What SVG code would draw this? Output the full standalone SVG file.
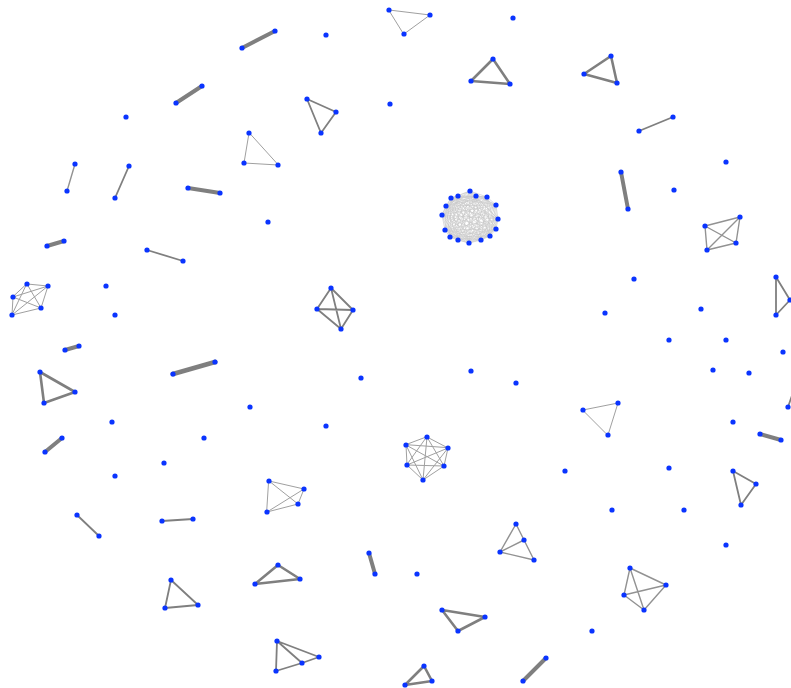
<svg xmlns="http://www.w3.org/2000/svg" width="791" height="688" viewBox="0 0 791 688">
<style>
.e{stroke:#7f7f7f;fill:none;stroke-linecap:round;stroke-linejoin:round}
.w1{stroke-width:1;stroke:#a0a0a0}
.w15{stroke-width:1.4;stroke:#929292}
.w2{stroke-width:1.8}
.w3{stroke-width:2.6}
.w4{stroke-width:4}
.w5{stroke-width:4.8}
.k{stroke:#c8c8c8;stroke-width:0.6;fill:none}
circle{fill:#0a34ff}
</style>
<rect width="791" height="688" fill="#fff"/>
<g id="connectors">
<path class="e w4" d="M242,48L275,31M176,103L202,86M188,188L220,193M621,172L628,209M47,246L64,241M65,350L79,346M45,452L62,438M760,434L781,440M369,553L375,574M523,681L546,658"/>
<path class="e w5" d="M173,374L215,362"/>
<path class="e w3" d="M493,59L471,81L510,84ZM611,56L584,74L617,83ZM40,372L75,392L44,403ZM278,565L300,579L255,584ZM442,610L485,617L458,631ZM424,666L405,685L432,681Z"/>
<path class="e w2" d="M162,521L193,519M788,407L796,384M129,166L115,198M639,131L673,117M147,250L183,261M776,277L790,300L776,315ZM171,580L165,608L198,605ZM77,515L99,536M733,471L756,484L741,505ZM307,99L336,112L321,133Z"/>
<path class="e w2" d="M331,288L353,310L341,329L317,309ZM331,288L341,329M317,309L353,310"/>
<path class="e w2" d="M277,641L319,657L302,663L276,671ZM277,641L302,663"/>
<path class="e w15" d="M75,164L67,191M705,226L740,217L736,243L707,250ZM705,226L736,243M740,217L707,250M516,524L524,540L534,560L500,552ZM516,524L500,552L524,540M630,568L666,585L644,610L624,595ZM630,568L644,610M624,595L666,585"/>
<path class="e w1" d="M249,133L244,163L278,165ZM389,10L430,15L404,34ZM583,410L618,403L608,435ZM269,481L304,489L298,504L267,512ZM269,481L298,504M304,489L267,512M27,284L48,286L41,308L12,315L13,297ZM27,284L41,308L13,297L48,286L12,315ZM427,437L448,448L444,466L423,480L407,465L406,445ZM427,437L444,466L407,465ZM448,448L423,480L406,445ZM427,437L423,480M448,448L407,465M444,466L406,445"/>
<path class="k" d="M470,191L476,196L487,197L496,205L498,219L496,229L490,236L481,240L469,243L458,240L450,237L445,230L442,215L446,206L451,198L458,196Z M470,191L487,197L498,219L490,236L469,243L450,237L442,215L451,198Z M476,196L496,205L496,229L481,240L458,240L445,230L446,206L458,196Z M470,191L496,205L490,236L458,240L442,215L458,196L487,197L496,229L469,243L445,230L451,198L476,196L498,219L481,240L450,237L446,206Z M470,191L498,219L469,243L442,215Z M476,196L496,229L458,240L446,206Z M487,197L490,236L450,237L451,198Z M496,205L481,240L445,230L458,196Z M470,191L496,229L450,237L458,196L498,219L458,240L451,198L496,205L469,243L446,206L487,197L481,240L442,215L476,196L490,236L445,230Z M470,191L490,236L442,215L487,197L469,243L451,198L498,219L450,237Z M476,196L481,240L446,206L496,205L458,240L458,196L496,229L445,230Z M470,191L481,240L451,198L496,229L442,215L496,205L450,237L476,196L469,243L458,196L490,236L446,206L498,219L445,230L487,197L458,240Z M470,191L469,243M476,196L458,240M487,197L450,237M496,205L445,230M498,219L442,215M496,229L446,206M490,236L451,198M481,240L458,196"/>
</g>
<g id="nodes">
<g id="i1"><circle cx="126" cy="117" r="2.6"/></g>
<g id="i2"><circle cx="326" cy="35" r="2.6"/></g>
<g id="i3"><circle cx="390" cy="104" r="2.6"/></g>
<g id="i4"><circle cx="513" cy="18" r="2.6"/></g>
<g id="i5"><circle cx="268" cy="222" r="2.6"/></g>
<g id="i6"><circle cx="726" cy="162" r="2.6"/></g>
<g id="i7"><circle cx="674" cy="190" r="2.6"/></g>
<g id="i8"><circle cx="106" cy="286" r="2.6"/></g>
<g id="i9"><circle cx="115" cy="315" r="2.6"/></g>
<g id="i10"><circle cx="250" cy="407" r="2.6"/></g>
<g id="i11"><circle cx="112" cy="422" r="2.6"/></g>
<g id="i12"><circle cx="204" cy="438" r="2.6"/></g>
<g id="i13"><circle cx="115" cy="476" r="2.6"/></g>
<g id="i14"><circle cx="164" cy="463" r="2.6"/></g>
<g id="i15"><circle cx="361" cy="378" r="2.6"/></g>
<g id="i16"><circle cx="471" cy="371" r="2.6"/></g>
<g id="i17"><circle cx="516" cy="383" r="2.6"/></g>
<g id="i18"><circle cx="326" cy="426" r="2.6"/></g>
<g id="i19"><circle cx="634" cy="279" r="2.6"/></g>
<g id="i20"><circle cx="605" cy="313" r="2.6"/></g>
<g id="i21"><circle cx="701" cy="309" r="2.6"/></g>
<g id="i22"><circle cx="669" cy="340" r="2.6"/></g>
<g id="i23"><circle cx="726" cy="340" r="2.6"/></g>
<g id="i24"><circle cx="783" cy="352" r="2.6"/></g>
<g id="i25"><circle cx="713" cy="370" r="2.6"/></g>
<g id="i26"><circle cx="749" cy="373" r="2.6"/></g>
<g id="i27"><circle cx="733" cy="422" r="2.6"/></g>
<g id="i28"><circle cx="565" cy="471" r="2.6"/></g>
<g id="i29"><circle cx="669" cy="468" r="2.6"/></g>
<g id="i30"><circle cx="612" cy="510" r="2.6"/></g>
<g id="i31"><circle cx="684" cy="510" r="2.6"/></g>
<g id="i32"><circle cx="726" cy="545" r="2.6"/></g>
<g id="i33"><circle cx="417" cy="574" r="2.6"/></g>
<g id="i34"><circle cx="592" cy="631" r="2.6"/></g>
<g id="a1"><circle cx="242" cy="48" r="2.6"/></g>
<g id="a2"><circle cx="275" cy="31" r="2.6"/></g>
<g id="b1"><circle cx="176" cy="103" r="2.6"/></g>
<g id="b2"><circle cx="202" cy="86" r="2.6"/></g>
<g id="c1"><circle cx="188" cy="188" r="2.6"/></g>
<g id="c2"><circle cx="220" cy="193" r="2.6"/></g>
<g id="d1"><circle cx="621" cy="172" r="2.6"/></g>
<g id="d2"><circle cx="628" cy="209" r="2.6"/></g>
<g id="f1"><circle cx="47" cy="246" r="2.6"/></g>
<g id="f2"><circle cx="64" cy="241" r="2.6"/></g>
<g id="g1"><circle cx="65" cy="350" r="2.6"/></g>
<g id="g2"><circle cx="79" cy="346" r="2.6"/></g>
<g id="h1"><circle cx="173" cy="374" r="2.6"/></g>
<g id="h2"><circle cx="215" cy="362" r="2.6"/></g>
<g id="j1"><circle cx="45" cy="452" r="2.6"/></g>
<g id="j2"><circle cx="62" cy="438" r="2.6"/></g>
<g id="k1"><circle cx="760" cy="434" r="2.6"/></g>
<g id="k2"><circle cx="781" cy="440" r="2.6"/></g>
<g id="l1"><circle cx="369" cy="553" r="2.6"/></g>
<g id="l2"><circle cx="375" cy="574" r="2.6"/></g>
<g id="m1"><circle cx="523" cy="681" r="2.6"/></g>
<g id="m2"><circle cx="546" cy="658" r="2.6"/></g>
<g id="n1"><circle cx="162" cy="521" r="2.6"/></g>
<g id="n2"><circle cx="193" cy="519" r="2.6"/></g>
<g id="o1"><circle cx="788" cy="407" r="2.6"/></g>
<g id="p1"><circle cx="129" cy="166" r="2.6"/></g>
<g id="p2"><circle cx="115" cy="198" r="2.6"/></g>
<g id="q1"><circle cx="639" cy="131" r="2.6"/></g>
<g id="q2"><circle cx="673" cy="117" r="2.6"/></g>
<g id="r1"><circle cx="147" cy="250" r="2.6"/></g>
<g id="r2"><circle cx="183" cy="261" r="2.6"/></g>
<g id="s1"><circle cx="77" cy="515" r="2.6"/></g>
<g id="s2"><circle cx="99" cy="536" r="2.6"/></g>
<g id="t1"><circle cx="75" cy="164" r="2.6"/></g>
<g id="t2"><circle cx="67" cy="191" r="2.6"/></g>
<g id="ta1"><circle cx="493" cy="59" r="2.6"/></g>
<g id="ta2"><circle cx="471" cy="81" r="2.6"/></g>
<g id="ta3"><circle cx="510" cy="84" r="2.6"/></g>
<g id="tb1"><circle cx="611" cy="56" r="2.6"/></g>
<g id="tb2"><circle cx="584" cy="74" r="2.6"/></g>
<g id="tb3"><circle cx="617" cy="83" r="2.6"/></g>
<g id="tc1"><circle cx="40" cy="372" r="2.6"/></g>
<g id="tc2"><circle cx="75" cy="392" r="2.6"/></g>
<g id="tc3"><circle cx="44" cy="403" r="2.6"/></g>
<g id="td1"><circle cx="278" cy="565" r="2.6"/></g>
<g id="td2"><circle cx="300" cy="579" r="2.6"/></g>
<g id="td3"><circle cx="255" cy="584" r="2.6"/></g>
<g id="te1"><circle cx="442" cy="610" r="2.6"/></g>
<g id="te2"><circle cx="485" cy="617" r="2.6"/></g>
<g id="te3"><circle cx="458" cy="631" r="2.6"/></g>
<g id="tf1"><circle cx="424" cy="666" r="2.6"/></g>
<g id="tf2"><circle cx="405" cy="685" r="2.6"/></g>
<g id="tf3"><circle cx="432" cy="681" r="2.6"/></g>
<g id="tg1"><circle cx="776" cy="277" r="2.6"/></g>
<g id="tg2"><circle cx="790" cy="300" r="2.6"/></g>
<g id="tg3"><circle cx="776" cy="315" r="2.6"/></g>
<g id="th1"><circle cx="171" cy="580" r="2.6"/></g>
<g id="th2"><circle cx="165" cy="608" r="2.6"/></g>
<g id="th3"><circle cx="198" cy="605" r="2.6"/></g>
<g id="ti1"><circle cx="733" cy="471" r="2.6"/></g>
<g id="ti2"><circle cx="756" cy="484" r="2.6"/></g>
<g id="ti3"><circle cx="741" cy="505" r="2.6"/></g>
<g id="tj1"><circle cx="307" cy="99" r="2.6"/></g>
<g id="tj2"><circle cx="336" cy="112" r="2.6"/></g>
<g id="tj3"><circle cx="321" cy="133" r="2.6"/></g>
<g id="tk1"><circle cx="249" cy="133" r="2.6"/></g>
<g id="tk2"><circle cx="244" cy="163" r="2.6"/></g>
<g id="tk3"><circle cx="278" cy="165" r="2.6"/></g>
<g id="tl1"><circle cx="389" cy="10" r="2.6"/></g>
<g id="tl2"><circle cx="430" cy="15" r="2.6"/></g>
<g id="tl3"><circle cx="404" cy="34" r="2.6"/></g>
<g id="tm1"><circle cx="583" cy="410" r="2.6"/></g>
<g id="tm2"><circle cx="618" cy="403" r="2.6"/></g>
<g id="tm3"><circle cx="608" cy="435" r="2.6"/></g>
<g id="qa1"><circle cx="331" cy="288" r="2.6"/></g>
<g id="qa2"><circle cx="353" cy="310" r="2.6"/></g>
<g id="qa3"><circle cx="341" cy="329" r="2.6"/></g>
<g id="qa4"><circle cx="317" cy="309" r="2.6"/></g>
<g id="qb1"><circle cx="277" cy="641" r="2.6"/></g>
<g id="qb2"><circle cx="319" cy="657" r="2.6"/></g>
<g id="qb3"><circle cx="302" cy="663" r="2.6"/></g>
<g id="qb4"><circle cx="276" cy="671" r="2.6"/></g>
<g id="qc1"><circle cx="705" cy="226" r="2.6"/></g>
<g id="qc2"><circle cx="740" cy="217" r="2.6"/></g>
<g id="qc3"><circle cx="736" cy="243" r="2.6"/></g>
<g id="qc4"><circle cx="707" cy="250" r="2.6"/></g>
<g id="qd1"><circle cx="516" cy="524" r="2.6"/></g>
<g id="qd2"><circle cx="524" cy="540" r="2.6"/></g>
<g id="qd3"><circle cx="534" cy="560" r="2.6"/></g>
<g id="qd4"><circle cx="500" cy="552" r="2.6"/></g>
<g id="qe1"><circle cx="630" cy="568" r="2.6"/></g>
<g id="qe2"><circle cx="666" cy="585" r="2.6"/></g>
<g id="qe3"><circle cx="644" cy="610" r="2.6"/></g>
<g id="qe4"><circle cx="624" cy="595" r="2.6"/></g>
<g id="qf1"><circle cx="269" cy="481" r="2.6"/></g>
<g id="qf2"><circle cx="304" cy="489" r="2.6"/></g>
<g id="qf3"><circle cx="298" cy="504" r="2.6"/></g>
<g id="qf4"><circle cx="267" cy="512" r="2.6"/></g>
<g id="pa1"><circle cx="27" cy="284" r="2.6"/></g>
<g id="pa2"><circle cx="48" cy="286" r="2.6"/></g>
<g id="pa3"><circle cx="41" cy="308" r="2.6"/></g>
<g id="pa4"><circle cx="12" cy="315" r="2.6"/></g>
<g id="pa5"><circle cx="13" cy="297" r="2.6"/></g>
<g id="xa1"><circle cx="427" cy="437" r="2.6"/></g>
<g id="xa2"><circle cx="448" cy="448" r="2.6"/></g>
<g id="xa3"><circle cx="444" cy="466" r="2.6"/></g>
<g id="xa4"><circle cx="423" cy="480" r="2.6"/></g>
<g id="xa5"><circle cx="407" cy="465" r="2.6"/></g>
<g id="xa6"><circle cx="406" cy="445" r="2.6"/></g>
<g id="c00"><circle cx="470" cy="191" r="2.6"/></g>
<g id="c01"><circle cx="476" cy="196" r="2.6"/></g>
<g id="c02"><circle cx="487" cy="197" r="2.6"/></g>
<g id="c03"><circle cx="496" cy="205" r="2.6"/></g>
<g id="c04"><circle cx="498" cy="219" r="2.6"/></g>
<g id="c05"><circle cx="496" cy="229" r="2.6"/></g>
<g id="c06"><circle cx="490" cy="236" r="2.6"/></g>
<g id="c07"><circle cx="481" cy="240" r="2.6"/></g>
<g id="c08"><circle cx="469" cy="243" r="2.6"/></g>
<g id="c09"><circle cx="458" cy="240" r="2.6"/></g>
<g id="c10"><circle cx="450" cy="237" r="2.6"/></g>
<g id="c11"><circle cx="445" cy="230" r="2.6"/></g>
<g id="c12"><circle cx="442" cy="215" r="2.6"/></g>
<g id="c13"><circle cx="446" cy="206" r="2.6"/></g>
<g id="c14"><circle cx="451" cy="198" r="2.6"/></g>
<g id="c15"><circle cx="458" cy="196" r="2.6"/></g>
</g>
</svg>
